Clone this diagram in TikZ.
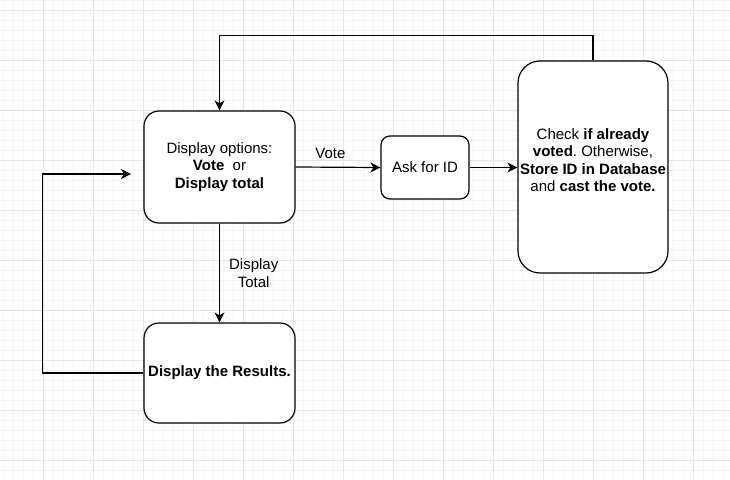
\documentclass[tikz,border=0pt]{standalone}
\usepackage{fontspec}
\setmainfont{Liberation Sans}
\usetikzlibrary{arrows.meta}
\frenchspacing
\begin{document}
\begin{tikzpicture}[x=1pt,y=-1pt,
  box/.style={draw=black, line width=1.2pt, fill=white, align=center, inner sep=2pt,
    font=\fontsize{15}{17.5}\selectfont},
  conn/.style={draw=black, line width=1.2pt, -{Stealth[length=10pt,width=10pt,inset=3pt]}},
  lbl/.style={font=\fontsize{15}{17.5}\selectfont, align=center, inner sep=1pt}]
\useasboundingbox (0,0) rectangle (730,479);
\fill[white] (0,0) rectangle (730,479);
\foreach \x in {3,13,...,723} \draw[color={rgb,255:red,245;green,245;blue,245}, line width=0.8pt] (\x,0) -- (\x,479);
\foreach \y in {0,10,...,470} \draw[color={rgb,255:red,245;green,245;blue,245}, line width=0.8pt] (0,\y) -- (730,\y);
\foreach \x in {43,93,...,693} \draw[color={rgb,255:red,229;green,229;blue,229}, line width=0.8pt] (\x,0) -- (\x,479);
\foreach \y in {10,60,...,460} \draw[color={rgb,255:red,229;green,229;blue,229}, line width=0.8pt] (0,\y) -- (730,\y);

\node[box, rounded corners=15pt, minimum width=151pt, minimum height=112pt] (opt) at (219.5,167)
  {Display options:\\\textbf{Vote}\ \ or\\\textbf{Display total}};
\node[box, rounded corners=9pt, minimum width=88pt, minimum height=63pt] (ask) at (425,167.5) {Ask for ID};
\node[box, rounded corners=22pt, minimum width=150pt, minimum height=212pt] (chk) at (593,167) {};
\node[lbl] (chktxt) at (593,160) {Check \textbf{if already}\\\textbf{voted}. Otherwise,\\\textbf{Store ID in Database}\\and \textbf{cast the vote.}};
\node[box, rounded corners=15pt, minimum width=151pt, minimum height=100pt] (res) at (219.5,373) {\textbf{Display the Results.}};

\coordinate (lt) at (131,174);

\draw[conn] (opt.east) -- (ask.west) node[lbl, pos=0.41, above=7pt] (lvote) {Vote};
\draw[conn] (ask.east) -- (ask.east -| chk.west);
\draw[conn] (chk.north) -- ++(0,-25) -| (opt.north);
\draw[conn] (opt.south) -- (res.north) node[lbl, pos=0.5, right=8pt] (ltot) {Display\\Total};
\draw[conn] (res.west) -- ++(-101,0) |- (lt);
\end{tikzpicture}
\end{document}
